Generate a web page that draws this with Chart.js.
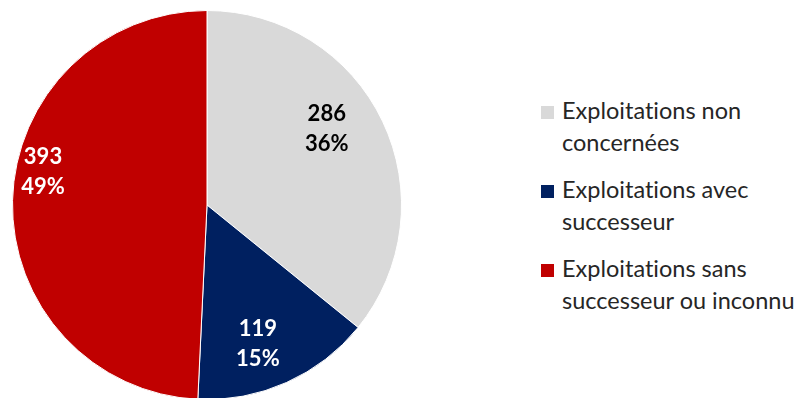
<!DOCTYPE html>
<html>
<head>
<meta charset="utf-8">
<script src="https://cdn.jsdelivr.net/npm/chart.js@4"></script>
<style>
  body { margin: 0; width: 803px; height: 398px; overflow: hidden; background: #fff; position: relative; font-family: Lato, "Open Sans", sans-serif; }
  #wrap { position: absolute; left: 0; top: 0; width: 414px; height: 400px; }
  #legend { position: absolute; left: 540px; top: 94px; }
  .item { display: flex; align-items: flex-start; margin-bottom: 15px; }
  .box { width: 13px; height: 13px; margin: 12px 8px 0 1px; flex: none; }
  .txt { font-size: 23.5px; line-height: 32px; color: #262626; font-variant-ligatures: none; white-space: nowrap; }
</style>
</head>
<body>
<div id="wrap"><canvas id="pie"></canvas></div>
<div id="legend"></div>
<script>
const categories = [
  ['Exploitations non', 'concernées'],
  ['Exploitations avec', 'successeur'],
  ['Exploitations sans', 'successeur ou inconnu']
];
const counts = [286, 119, 393];
const percents = ['36%', '15%', '49%'];
const colors = ['#D9D9D9', '#002060', '#C00000'];
const labelColors = ['#000000', '#FFFFFF', '#FFFFFF'];

// label placement: fraction of radius and angle shift (degrees)
const labelPlace = [
  { r: 0.73, shift: -7 },
  { r: 0.76, shift: 4 },
  { r: 0.86, shift: 10 }
];

const sliceLabels = {
  id: 'sliceLabels',
  afterDatasetsDraw(chart) {
    const ctx = chart.ctx;
    const meta = chart.getDatasetMeta(0);
    ctx.save();
    ctx.font = 'bold 22px Lato, "Open Sans", sans-serif';
    ctx.textAlign = 'center';
    ctx.textBaseline = 'middle';
    meta.data.forEach((arc, i) => {
      const p = arc.getProps(['x', 'y', 'startAngle', 'endAngle', 'outerRadius']);
      const a = (p.startAngle + p.endAngle) / 2 + labelPlace[i].shift * Math.PI / 180;
      const r = p.outerRadius * labelPlace[i].r;
      const x = p.x + Math.cos(a) * r;
      const y = p.y + Math.sin(a) * r;
      ctx.fillStyle = labelColors[i];
      ctx.fillText(String(counts[i]), x, y - 15);
      ctx.fillText(percents[i], x, y + 15);
    });
    ctx.restore();
  }
};

new Chart(document.getElementById('pie'), {
  type: 'pie',
  data: {
    labels: categories.map(c => c.join(' ')),
    datasets: [{
      data: counts,
      backgroundColor: colors,
      borderColor: '#FFFFFF',
      borderWidth: 1
    }]
  },
  options: {
    responsive: true,
    maintainAspectRatio: false,
    animation: false,
    layout: { padding: { left: 12, top: 10, right: 12, bottom: 0 } },
    plugins: {
      legend: { display: false },
      tooltip: { enabled: false }
    }
  },
  plugins: [sliceLabels]
});

const legend = document.getElementById('legend');
categories.forEach((lines, i) => {
  const item = document.createElement('div');
  item.className = 'item';
  const box = document.createElement('div');
  box.className = 'box';
  box.style.background = colors[i];
  const txt = document.createElement('div');
  txt.className = 'txt';
  txt.innerHTML = lines.join('<br>');
  item.appendChild(box);
  item.appendChild(txt);
  legend.appendChild(item);
});
</script>
</body>
</html>
